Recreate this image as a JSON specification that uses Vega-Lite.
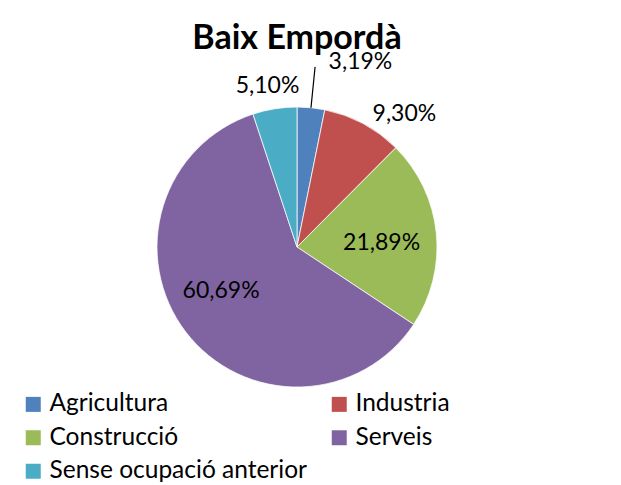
{
  "$schema": "https://vega.github.io/schema/vega-lite/v6.json",
  "width": 594,
  "height": 476,
  "autosize": {"type": "none"},
  "padding": {"left": 0, "top": 9, "right": 27, "bottom": 0},
  "background": "white",
  "config": {
    "view": {"stroke": null},
    "locale": {"number": {"decimal": ",", "thousands": ".", "grouping": [3], "currency": ["", " €"]}}
  },
  "title": {
    "text": "Baix Empordà",
    "font": "Lato",
    "fontSize": 34,
    "fontWeight": "bold",
    "color": "black",
    "anchor": "middle",
    "frame": "group",
    "baseline": "alphabetic",
    "offset": -74
  },
  "data": {
    "values": [
      {"sector": "Agricultura", "share": 0.0319, "idx": 1},
      {"sector": "Industria", "share": 0.0930, "idx": 2},
      {"sector": "Construcció", "share": 0.2189, "idx": 3},
      {"sector": "Serveis", "share": 0.6069, "idx": 4},
      {"sector": "Sense ocupació anterior", "share": 0.0510, "idx": 5}
    ]
  },
  "encoding": {
    "theta": {"field": "share", "type": "quantitative", "stack": true},
    "order": {"field": "idx", "type": "quantitative"}
  },
  "layer": [
    {
      "mark": {"type": "arc", "radius": 140, "stroke": "white", "strokeWidth": 0.75},
      "encoding": {
        "color": {
          "field": "sector",
          "type": "nominal",
          "scale": {
            "domain": ["Agricultura", "Industria", "Construcció", "Serveis", "Sense ocupació anterior"],
            "range": ["#4F81BD", "#C0504D", "#9BBB59", "#8064A2", "#4BACC6"]
          },
          "legend": {
            "title": null,
            "orient": "none",
            "legendX": 21,
            "legendY": 383,
            "columns": 2,
            "direction": "horizontal",
            "symbolType": "square",
            "symbolSize": 225,
            "symbolStrokeWidth": 0,
            "symbolOpacity": 1,
            "labelFont": "Lato",
            "labelFontSize": 24.5,
            "labelColor": "black",
            "labelOffset": 4,
            "labelLimit": 400,
            "rowPadding": 8.5,
            "columnPadding": 20,
            "padding": 0
          }
        }
      }
    },
    {
      "mark": {"type": "arc", "radius": 181, "radius2": 140, "padAngle": 1, "filled": false, "stroke": "black", "strokeWidth": 1.2},
      "encoding": {
        "strokeOpacity": {"condition": {"test": "datum.sector === 'Agricultura'", "value": 1}, "value": 0}
      }
    },
    {
      "mark": {"type": "text", "radius": 186, "align": "left", "baseline": "middle", "dx": 13, "font": "Lato", "fontSize": 23, "color": "black"},
      "encoding": {
        "text": {"condition": {"test": "datum.sector === 'Agricultura'", "field": "share", "type": "quantitative", "format": ".2%"}, "value": ""}
      }
    },
    {
      "mark": {"type": "text", "radius": 160, "align": "left", "baseline": "middle", "dy": 8, "font": "Lato", "fontSize": 23, "color": "black"},
      "encoding": {
        "text": {"condition": {"test": "datum.sector === 'Industria'", "field": "share", "type": "quantitative", "format": ".2%"}, "value": ""}
      }
    },
    {
      "mark": {"type": "text", "radius": 85, "align": "center", "baseline": "middle", "dy": 5, "font": "Lato", "fontSize": 23, "color": "black"},
      "encoding": {
        "text": {"condition": {"test": "datum.sector === 'Construcció'", "field": "share", "type": "quantitative", "format": ".2%"}, "value": ""}
      }
    },
    {
      "mark": {"type": "text", "radius": 88, "align": "center", "baseline": "middle", "dx": -6, "dy": -9, "font": "Lato", "fontSize": 23, "color": "black"},
      "encoding": {
        "text": {"condition": {"test": "datum.sector === 'Serveis'", "field": "share", "type": "quantitative", "format": ".2%"}, "value": ""}
      }
    },
    {
      "mark": {"type": "text", "radius": 160, "align": "center", "baseline": "middle", "dx": -4, "dy": -3, "font": "Lato", "fontSize": 23, "color": "black"},
      "encoding": {
        "text": {"condition": {"test": "datum.sector === 'Sense ocupació anterior'", "field": "share", "type": "quantitative", "format": ".2%"}, "value": ""}
      }
    }
  ]
}
